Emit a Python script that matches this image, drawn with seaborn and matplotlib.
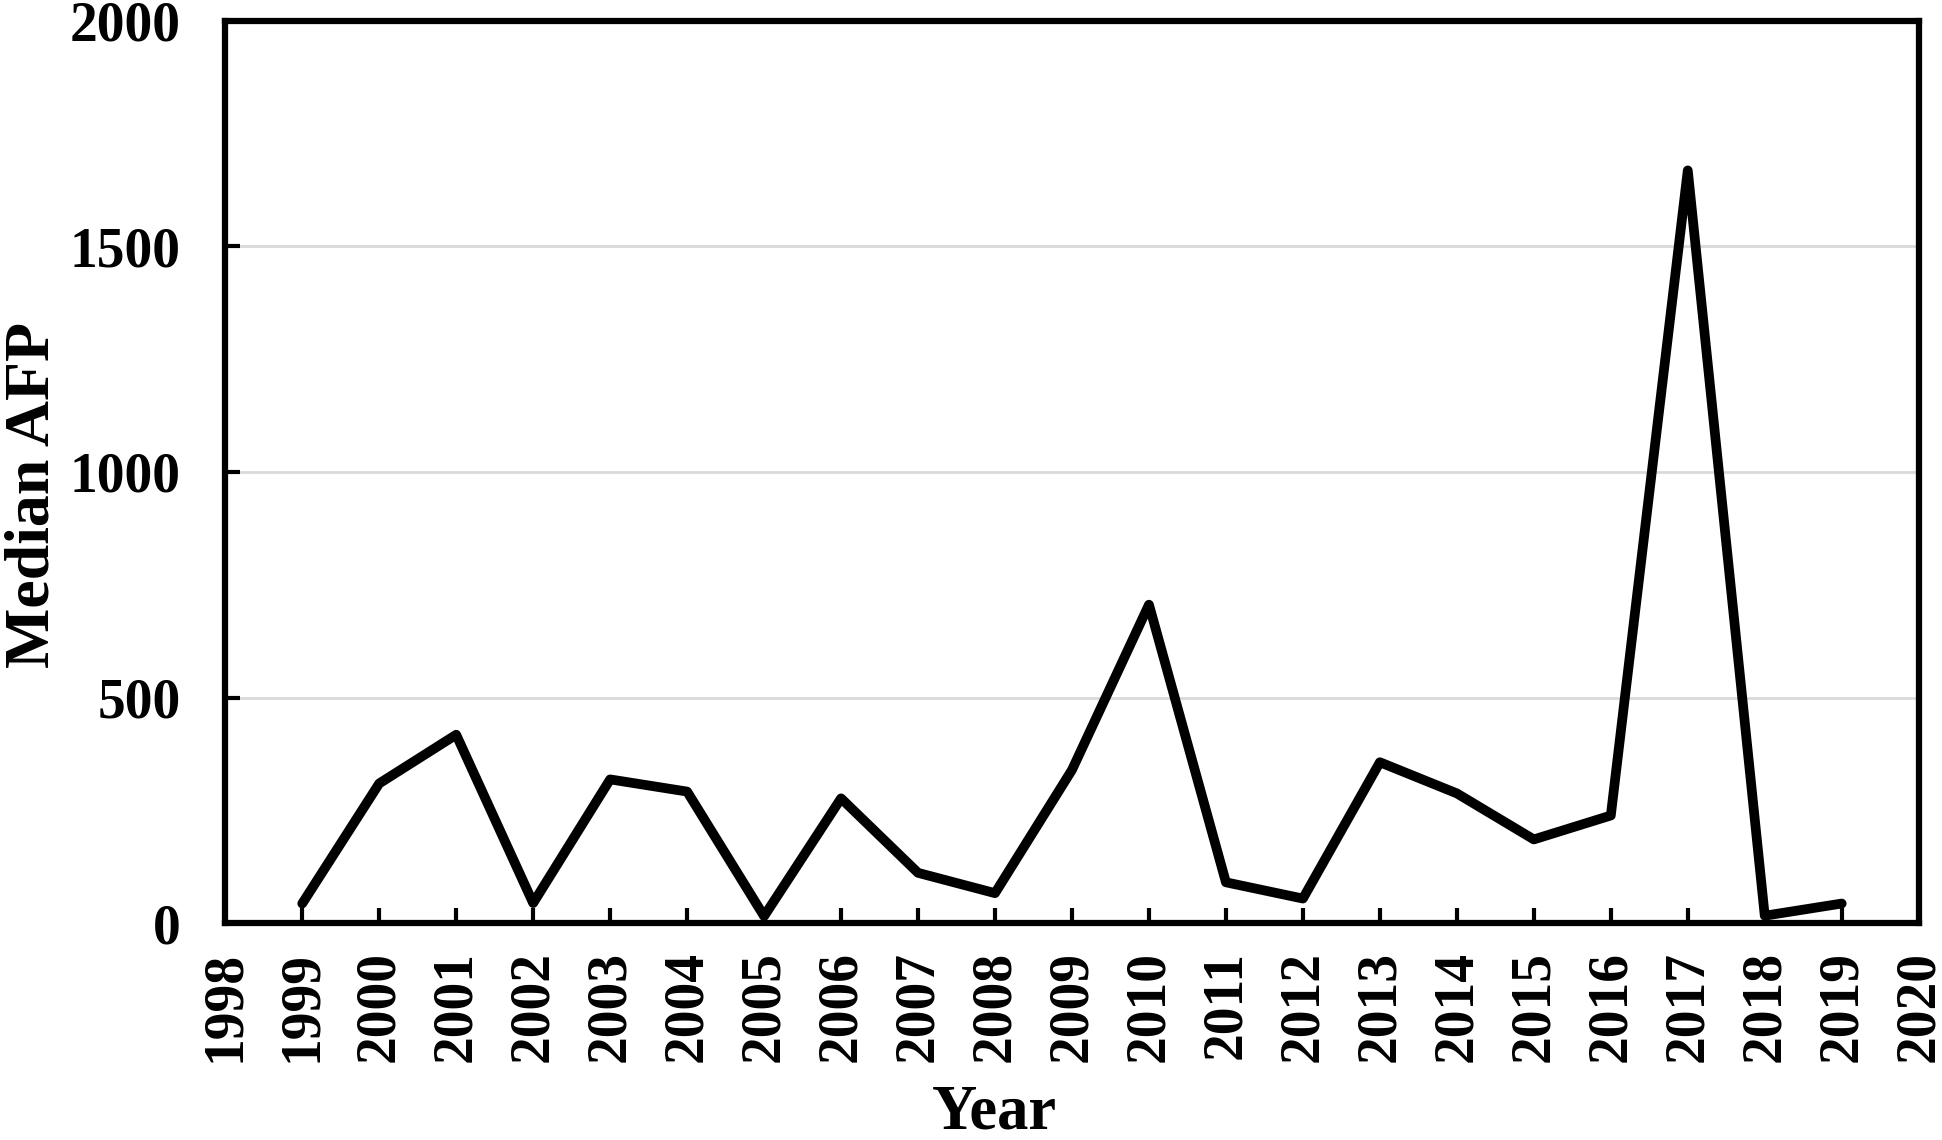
import numpy as np
import pandas as pd
import matplotlib
matplotlib.use("Agg")
import matplotlib.pyplot as plt
import seaborn as sns

# values
years = [1999, 2000, 2001, 2002, 2003, 2004, 2005, 2006, 2007, 2008, 2009,
         2010, 2011, 2012, 2013, 2014, 2015, 2016, 2017, 2018, 2019]
median_afp = [44, 310, 418, 45, 319, 292, 16, 277, 112, 67, 340,
              706, 91, 55, 357, 288, 186, 239, 1668, 17, 44]

x_ticks = list(range(1998, 2021))
y_ticks = [0, 500, 1000, 1500, 2000]

sns.set_theme(style="white")
plt.rcParams['font.family'] = ['Liberation Serif', 'DejaVu Serif']
plt.rcParams['font.weight'] = 'bold'
plt.rcParams['text.color'] = 'black'
plt.rcParams['axes.labelcolor'] = 'black'
plt.rcParams['xtick.color'] = 'black'
plt.rcParams['ytick.color'] = 'black'

df = pd.DataFrame({"Year": years, "Median AFP": median_afp})

fig = plt.figure(figsize=(19.42, 11.4), dpi=100)
ax = fig.add_axes([0.116, 0.190, 0.872, 0.792])

for y in y_ticks[1:-1]:
    ax.axhline(y, color='#d9d9d9', lw=2, zorder=0)

sns.lineplot(data=df, x="Year", y="Median AFP", ax=ax, color='black', lw=7,
             solid_joinstyle='round', solid_capstyle='round')

ax.set_xlim(1998, 2020)
ax.set_ylim(0, 2000)
ax.set_xticks(x_ticks)
ax.set_xticklabels([str(t) for t in x_ticks], rotation=90, fontsize=40, fontweight='bold')
ax.set_yticks(y_ticks)
ax.set_yticklabels([str(t) for t in y_ticks], fontsize=40, fontweight='bold')
ax.tick_params(axis='x', bottom=True, direction='in', length=11, width=3, pad=20, colors='black')
ax.tick_params(axis='y', left=True, direction='in', length=11, width=3, pad=32, colors='black')

for s in ax.spines.values():
    s.set_visible(True)
    s.set_color('black')
    s.set_linewidth(4.5)

ax.set_xlabel("Year", fontsize=45, fontweight='bold')
ax.set_ylabel("Median AFP", fontsize=46, fontweight='bold')
ax.xaxis.set_label_coords(0.454, -0.178)
ax.yaxis.set_label_coords(-0.096, 0.474)
ax.grid(False)

fig.savefig("out.png", dpi=100)
